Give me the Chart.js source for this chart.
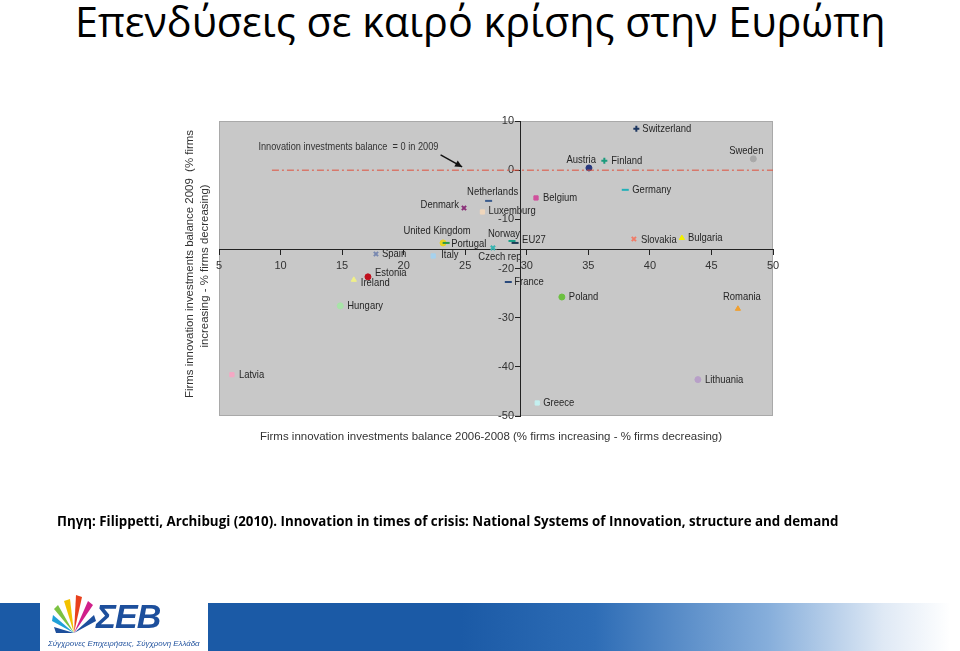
<!DOCTYPE html>
<html><head><meta charset="utf-8">
<script src="https://cdn.jsdelivr.net/npm/chart.js@4"></script>
<style>
html,body{margin:0;padding:0;background:#fff;width:960px;height:651px;overflow:hidden;position:relative;font-family:"Open Sans",sans-serif}
#title{position:absolute;left:75px;top:0;font-size:42px;line-height:42px;white-space:nowrap;transform-origin:0 0;color:#000}
#src{position:absolute;left:57px;top:514px;font-weight:bold;font-size:14px;line-height:14px;white-space:nowrap;transform-origin:0 0;color:#000}
#wrap{position:absolute;left:0;top:0;width:960px;height:651px}
#band{position:absolute;left:0;top:603px;width:960px;height:48px;background:linear-gradient(90deg,#1b5aa6 0%,#1b5aa6 48%,#2e6db6 62%,#86aedb 80%,#dfe9f5 92%,#ffffff 99%)}
#logo{position:absolute;left:40px;top:593px;width:168px;height:58px;background:#fff}
#seb{position:absolute;left:56px;top:6px;font-family:"Liberation Sans",Arial,sans-serif;font-weight:bold;font-style:italic;font-size:34px;line-height:34px;color:#1d4f9c;letter-spacing:-1px}
#tag{position:absolute;left:8px;top:46px;font-family:"Liberation Sans Narrow","Liberation Sans",sans-serif;font-style:italic;font-size:8px;line-height:9px;color:#1d4f9c;white-space:nowrap;transform-origin:0 0}
#burst{position:absolute;left:10px;top:0}
</style>
</head><body>
<div id="title">Επενδύσεις σε καιρό κρίσης στην Ευρώπη</div>
<div id="wrap"><canvas id="c" width="960" height="651"></canvas></div>
<div id="src">Πηγη: Filippetti, Archibugi (2010). Innovation in times of crisis: National Systems of Innovation, structure and demand</div>
<div id="band"></div>
<div id="logo">
<svg id="burst" width="48" height="46" viewBox="0 0 48 46">
<path d="M24 40 L14 8 L20 6 Z" fill="#f2c200"/>
<path d="M24 40 L26 2 L32 4 Z" fill="#e8401c"/>
<path d="M24 40 L38 8 L43 12 Z" fill="#d0208a"/>
<path d="M24 40 L4 16 L8 12 Z" fill="#7cc242"/>
<path d="M24 40 L2 28 L3 22 Z" fill="#1ea0d8"/>
<path d="M24 40 L6 40 L4 34 Z" fill="#1d4f9c"/>
<path d="M24 40 L44 22 L46 28 Z" fill="#1d4f9c"/>
</svg>
<div id="seb">ΣΕΒ</div>
<div id="tag">Σύγχρονες Επιχειρήσεις, Σύγχρονη Ελλάδα</div>
</div>
<script>
// ---- data ----
const countries = ["Switzerland","Austria","Finland","Sweden","Germany","Belgium","Netherlands","Denmark","Luxemburg","United Kingdom","Portugal","Norway","EU27","Czech rep","Italy","Spain","Estonia","Ireland","Hungary","Latvia","France","Poland","Romania","Lithuania","Greece","Slovakia","Bulgaria"];
const balance2006_2008 = [38.9,35.05,36.3,48.4,38.0,30.75,26.9,24.9,26.4,23.2,23.45,28.8,29.05,27.25,22.4,17.75,17.1,15.95,14.85,6.05,28.5,32.85,47.15,43.9,30.85,38.7,42.6];
const balance2009      = [8.4,0.45,1.9,2.3,-4.0,-5.65,-6.25,-7.7,-8.5,-14.8,-14.8,-14.4,-14.8,-15.8,-17.45,-17.05,-21.7,-22.3,-27.6,-41.6,-22.75,-25.8,-28.2,-42.6,-47.35,-14.0,-13.8];
const xTicks = [5,10,15,20,25,30,35,40,45,50];
const yTicks = [10,0,-10,-20,-30,-40,-50];
const zeroLineX = [9.3,50];
const zeroLineY = [0,0];

// ---- styles ----
const markerStyles = ["cross","circle","cross","circle","line","rect","line","crossRot","rect","circle","line","line","line","crossRot","rect","crossRot","circle","triangle","circle","rect","line","circle","triangle","circle","rect","crossRot","triangle"];
const markerColors = ["#1c3660","#28387e","#1a9a7c","#a8a8a8","#22b0b8","#d0509c","#385a8c","#8a2e78","#efd6bc","#e8d420","#2a9a4a","#18a088","#1c3c56","#36b4b0","#a6d2ee","#7888b0","#c0101e","#f0f088","#a8e4a8","#f4a8c4","#2a4a7c","#6cc040","#f0a030","#b8a0c8","#c4f0f0","#f07c68","#f2f000"];
const labelPlace = [[6,0,"left"],[7,-8,"right"],[7,0,"left"],[-7,-8,"center"],[7,0,"left"],[7,0,"left"],[4,-9,"center"],[-5,-3,"right"],[6,-1,"left"],[-6,-12,"center"],[5,1,"left"],[8,-7,"right"],[7,-3,"left"],[7,9,"center"],[8,-1,"left"],[6,0,"left"],[7,-4,"left"],[7,3,"left"],[7,0,"left"],[7,0,"left"],[6,0,"left"],[7,0,"left"],[4,-12,"center"],[7,0,"left"],[6,0,"left"],[7,1,"left"],[6,0,"left"]];

const FONT = '"Liberation Sans", Arial, sans-serif';
function fitText(ctx, text, x, y, align, targetW, sx){
  ctx.save();
  const w = ctx.measureText(text).width;
  const s = targetW ? targetW / w : sx;
  ctx.translate(x, y); ctx.scale(s, 1); ctx.textAlign = align; ctx.fillText(text, 0, 0);
  ctx.restore();
}

const bgPlugin = {
  id:'bg',
  beforeDraw(chart){
    const {ctx, chartArea:a} = chart;
    ctx.save();
    ctx.fillStyle = '#c8c8c8';
    ctx.fillRect(a.left, a.top, a.right-a.left, a.bottom-a.top);
    ctx.strokeStyle = '#a9a9a9'; ctx.lineWidth = 1;
    ctx.strokeRect(a.left+0.5, a.top+0.5, a.right-a.left-1, a.bottom-a.top-1);
    ctx.restore();
  }
};
const textPlugin = {
  id:'txt',
  afterDatasetsDraw(chart){
    const ctx = chart.ctx, xs = chart.scales.x, ys = chart.scales.y;
    const meta = chart.getDatasetMeta(1);
    ctx.save();
    ctx.font = '11px ' + FONT; ctx.fillStyle = '#262626'; ctx.textBaseline = 'middle';
    meta.data.forEach((pt, i) => {
      const p = labelPlace[i];
      fitText(ctx, countries[i], pt.x + p[0], pt.y + p[1], p[2], 0, 0.86);
    });
    // annotation
    ctx.fillStyle = '#333';
    fitText(ctx, 'Innovation investments balance  = 0 in 2009', xs.getPixelForValue(8.2), ys.getPixelForValue(4.7), 'left', 180);
    const x1 = xs.getPixelForValue(23.0), y1 = ys.getPixelForValue(3.1);
    const x2 = xs.getPixelForValue(24.75), y2 = ys.getPixelForValue(0.65);
    ctx.strokeStyle = '#111'; ctx.fillStyle = '#111'; ctx.lineWidth = 1.4;
    ctx.beginPath(); ctx.moveTo(x1, y1); ctx.lineTo(x2, y2); ctx.stroke();
    const ang = Math.atan2(y2-y1, x2-x1), L = 7, W = 3.5;
    ctx.beginPath(); ctx.moveTo(x2, y2);
    ctx.lineTo(x2 - L*Math.cos(ang) + W*Math.sin(ang), y2 - L*Math.sin(ang) - W*Math.cos(ang));
    ctx.lineTo(x2 - L*Math.cos(ang) - W*Math.sin(ang), y2 - L*Math.sin(ang) + W*Math.cos(ang));
    ctx.closePath(); ctx.fill();
    // axis titles
    ctx.fillStyle = '#333'; ctx.font = '11px ' + FONT;
    fitText(ctx, 'Firms innovation investments balance 2006-2008 (% firms increasing - % firms decreasing)', 491, 437, 'center', 462);
    const l1 = 'Firms innovation investments balance 2009  (% firms';
    const l2 = 'increasing - % firms decreasing)';
    const s = 268 / ctx.measureText(l1).width;
    ctx.save(); ctx.translate(190, 264); ctx.rotate(-Math.PI/2); ctx.scale(s,1); ctx.textAlign='center'; ctx.fillText(l1, 0, 0); ctx.restore();
    ctx.save(); ctx.translate(205, 266); ctx.rotate(-Math.PI/2); ctx.scale(s,1); ctx.textAlign='center'; ctx.fillText(l2, 0, 0); ctx.restore();
    ctx.restore();
  }
};

const tickFont = {size:11, family:FONT};
new Chart(document.getElementById('c'), {
  data:{
    datasets:[
      {type:'line', data: zeroLineX.map((v,i)=>({x:v, y:zeroLineY[i]})), borderColor:'#e0503c', borderWidth:1, borderDash:[7,3,2,3], pointRadius:0, fill:false},
      {type:'scatter', data: balance2006_2008.map((v,i)=>({x:v, y:balance2009[i]})),
       pointStyle: markerStyles, pointBackgroundColor: markerColors, pointBorderColor: markerColors,
       pointRadius: markerStyles.map(s => s==='line' ? 3.5 : 3), pointBorderWidth: markerStyles.map(s => (s==='line'||s==='cross'||s==='crossRot') ? 2 : 1)}
    ]
  },
  options:{
    responsive:false, animation:false, devicePixelRatio:1,
    layout:{padding:{left:219, top:121, right:187, bottom:235}},
    plugins:{legend:{display:false}, tooltip:{enabled:false}},
    scales:{
      x:{type:'linear', min:5, max:50, position:{y:-16.2},
         afterBuildTicks: sc => { sc.ticks = xTicks.map(v=>({value:v})); },
         ticks:{color:'#333', font:tickFont, maxRotation:0, autoSkip:false, padding:5},
         grid:{drawOnChartArea:false, tickLength:5, color:'#222'},
         border:{display:true, color:'#222', width:1}},
      y:{type:'linear', min:-50, max:10, position:{x:29.5},
         afterBuildTicks: sc => { sc.ticks = yTicks.map(v=>({value:v})); },
         ticks:{color:'#333', font:tickFont, autoSkip:false, padding:2, callback: v => v + '\u2009\u2009\u2009'},
         grid:{drawOnChartArea:false, tickLength:5, color:'#222'},
         border:{display:true, color:'#222', width:1}}
    }
  },
  plugins:[bgPlugin, textPlugin]
});

function fitEl(id, w){ const e = document.getElementById(id); const cw = e.scrollWidth; e.style.transform = 'scaleX(' + (w/cw) + ')'; }
fitEl('title', 810);
fitEl('src', 781);
fitEl('tag', 152);
</script>
</body></html>
